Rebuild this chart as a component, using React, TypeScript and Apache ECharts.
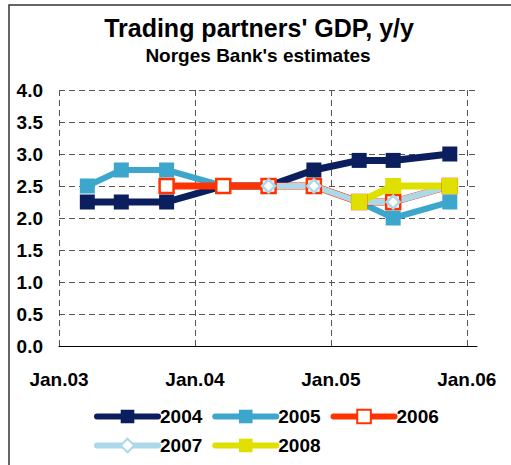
import React, { useEffect, useRef } from "react";
import * as echarts from "echarts";

// Publication points (months since Jan.03)
const xMonths = [2.5, 5.5, 9.5, 14.5, 18.5, 22.5, 26.5, 29.5, 34.5];
const xTickValues = [0, 12, 24, 36];
const xTickLabels = ["Jan.03", "Jan.04", "Jan.05", "Jan.06"];

const seriesNames = ["2004", "2005", "2006", "2007", "2008"];
const s2004 = [2.25, 2.25, 2.25, 2.5, 2.5, 2.75, 2.9, 2.9, 3.0];
const s2005 = [2.5, 2.75, 2.75, 2.5, 2.5, 2.5, 2.25, 2.0, 2.25];
const s2006 = [null, null, 2.5, 2.5, 2.5, 2.5, 2.25, 2.25, 2.5];
const s2007 = [null, null, null, null, 2.5, 2.5, 2.25, 2.25, 2.5];
const s2008 = [null, null, null, null, null, null, 2.25, 2.5, 2.5];

const FONT = "'Liberation Sans', Arial, sans-serif";

function pairs(vals: (number | null)[]) {
  return xMonths.map((x, i) => [x, vals[i]]);
}

export default function App() {
  const ref = useRef<HTMLDivElement>(null);
  useEffect(() => {
    if (!ref.current) return;
    const chart = echarts.init(ref.current, undefined, { renderer: "svg" });
    const navy = "#0B1F5E";
    const blue = "#3DA6CC";
    const red = "#FF3300";
    const light = "#ADD8EA";
    const yellow = "#E0E000";
    const dash = { color: "#555", width: 1, type: [6, 4] as number[] };
    const option: any = {
      animation: false,
      backgroundColor: "#fff",
      graphic: [
        {
          type: "rect",
          shape: { x: 9, y: 5, width: 800, height: 800 },
          style: { fill: "none", stroke: "#333", lineWidth: 1.5 },
          silent: true,
          z: -10,
        },
      ],
      title: [
        {
          text: "Trading partners' GDP, y/y",
          left: 259,
          top: 15,
          padding: 0,
          textAlign: "center",
          textStyle: { fontFamily: FONT, fontSize: 25, fontWeight: "bold", color: "#000" },
        },
        {
          text: "Norges Bank's estimates",
          left: 258,
          top: 46,
          padding: 0,
          textAlign: "center",
          textStyle: { fontFamily: FONT, fontSize: 19, fontWeight: "bold", color: "#000" },
        },
      ],
      grid: { left: 59, top: 90, width: 418, height: 256, containLabel: false, outerBoundsMode: "none" },
      xAxis: {
        type: "value",
        min: 0,
        max: 36.9,
        interval: 12,
        axisLine: { show: true, lineStyle: { color: "#000", width: 1 } },
        axisTick: { show: true, inside: true, length: 5, customValues: xTickValues, lineStyle: { color: "#000" } },
        axisLabel: {
          customValues: xTickValues,
          margin: 24,
          fontFamily: FONT,
          fontSize: 19,
          fontWeight: "bold",
          color: "#000",
          formatter: (v: number) => {
            const i = xTickValues.indexOf(Math.round(v));
            return i >= 0 ? xTickLabels[i] : "";
          },
        },
        splitLine: { show: false },
      },
      yAxis: {
        type: "value",
        min: 0,
        max: 4,
        interval: 0.5,
        axisLine: { show: false },
        axisTick: { show: false },
        axisLabel: {
          margin: 16,
          fontFamily: FONT,
          fontSize: 19,
          fontWeight: "bold",
          color: "#000",
          formatter: (v: number) => v.toFixed(1),
        },
        splitLine: { show: true, lineStyle: dash },
      },
      legend: {
        left: 94,
        top: 407,
        padding: 0,
        width: 360,
        itemWidth: 61,
        itemHeight: 17,
        itemGap: 10,
        textStyle: { fontFamily: FONT, fontSize: 19, fontWeight: "bold", color: "#000", padding: [0, 0, 0, -3] },
        lineStyle: { width: 6, cap: "round" },
        data: seriesNames,
      },
      series: [
        {
          name: seriesNames[0],
          type: "line",
          data: pairs(s2004),
          symbol: "rect",
          symbolSize: 15,
          lineStyle: { color: navy, width: 7 },
          itemStyle: { color: navy },
          markLine: {
            silent: true,
            z: 1,
            symbol: ["none", "none"],
            label: { show: false },
            lineStyle: dash,
            emphasis: { disabled: true },
            data: xTickValues.map((v) => ({ xAxis: v })),
          },
        },
        {
          name: seriesNames[1],
          type: "line",
          data: pairs(s2005),
          symbol: "rect",
          symbolSize: 15,
          lineStyle: { color: blue, width: 6 },
          itemStyle: { color: blue },
        },
        {
          name: seriesNames[2],
          type: "line",
          data: pairs(s2006),
          symbol: "rect",
          symbolSize: 14,
          lineStyle: { color: red, width: 7 },
          itemStyle: { color: "#fff", borderColor: red, borderWidth: 2.5 },
        },
        {
          name: seriesNames[3],
          type: "line",
          data: pairs(s2007),
          symbol: "diamond",
          symbolSize: 13,
          lineStyle: { color: light, width: 6 },
          itemStyle: { color: "#fff", borderColor: light, borderWidth: 2.5 },
        },
        {
          name: seriesNames[4],
          type: "line",
          data: pairs(s2008),
          symbol: "rect",
          symbolSize: 16,
          lineStyle: { color: yellow, width: 7 },
          itemStyle: { color: yellow },
        },
      ],
    };
    chart.setOption(option);
    return () => chart.dispose();
  }, []);
  return (
    <div
      ref={ref}
      style={{ position: "absolute", left: 0, top: 0, width: 511, height: 465 }}
    />
  );
}
